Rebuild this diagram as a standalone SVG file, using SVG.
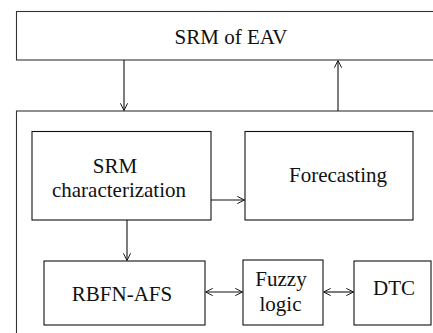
<svg xmlns="http://www.w3.org/2000/svg" width="433" height="333" viewBox="0 0 433 333">
  <style>
    .box { fill: #fff; stroke: #111; stroke-width: 1.1; }
    .frame { fill: none; stroke: #333; stroke-width: 1.1; }
    .wire { fill: none; stroke: #111; stroke-width: 1.1; }
    .lbl { font-family: "Liberation Serif", "Times New Roman", serif; font-size: 21px; fill: #111; text-anchor: middle; }
  </style>
  <defs>
    <marker id="head" viewBox="0 0 10 10" refX="10" refY="5" markerWidth="8" markerHeight="8" markerUnits="userSpaceOnUse" orient="auto-start-reverse">
      <path d="M1,0.5 L10,5 L1,9.5" fill="none" stroke="#111" stroke-width="1.2"/>
    </marker>
  </defs>

  <rect width="433" height="333" fill="#fff"/>

  <g id="srm-of-eav">
    <rect class="frame" x="16.5" y="11.5" width="440" height="48.5"/>
    <text class="lbl" x="231" y="44">SRM of EAV</text>
  </g>

  <g id="controller-frame">
    <rect class="frame" x="16.5" y="111" width="440" height="250"/>
  </g>

  <g id="srm-characterization">
    <rect class="box" x="32" y="131.5" width="179" height="88.5"/>
    <text class="lbl" x="115" y="173">SRM</text>
    <text class="lbl" x="119" y="197">characterization</text>
  </g>

  <g id="forecasting">
    <rect class="box" x="245" y="131.5" width="168" height="88.5"/>
    <text class="lbl" x="338" y="182">Forecasting</text>
  </g>

  <g id="rbfn-afs">
    <rect class="box" x="44" y="261" width="161" height="64"/>
    <text class="lbl" x="122" y="301">RBFN-AFS</text>
  </g>

  <g id="fuzzy-logic">
    <rect class="box" x="243" y="260" width="80" height="65"/>
    <text class="lbl" x="281" y="285.5">Fuzzy</text>
    <text class="lbl" x="280.5" y="311">logic</text>
  </g>

  <g id="dtc">
    <rect class="box" x="354" y="261" width="77" height="64"/>
    <text class="lbl" x="394" y="295">DTC</text>
  </g>

  <g id="connectors">
    <line class="wire" x1="124" y1="60" x2="124" y2="110.5" marker-end="url(#head)"/>
    <line class="wire" x1="338" y1="111" x2="338" y2="60.5" marker-end="url(#head)"/>
    <line class="wire" x1="211" y1="200" x2="244.5" y2="200" marker-end="url(#head)"/>
    <line class="wire" x1="127" y1="220" x2="127" y2="260.5" marker-end="url(#head)"/>
    <line class="wire" x1="205.5" y1="292" x2="242.5" y2="292" marker-start="url(#head)" marker-end="url(#head)"/>
    <line class="wire" x1="323.5" y1="292" x2="353.5" y2="292" marker-start="url(#head)" marker-end="url(#head)"/>
  </g>
</svg>
